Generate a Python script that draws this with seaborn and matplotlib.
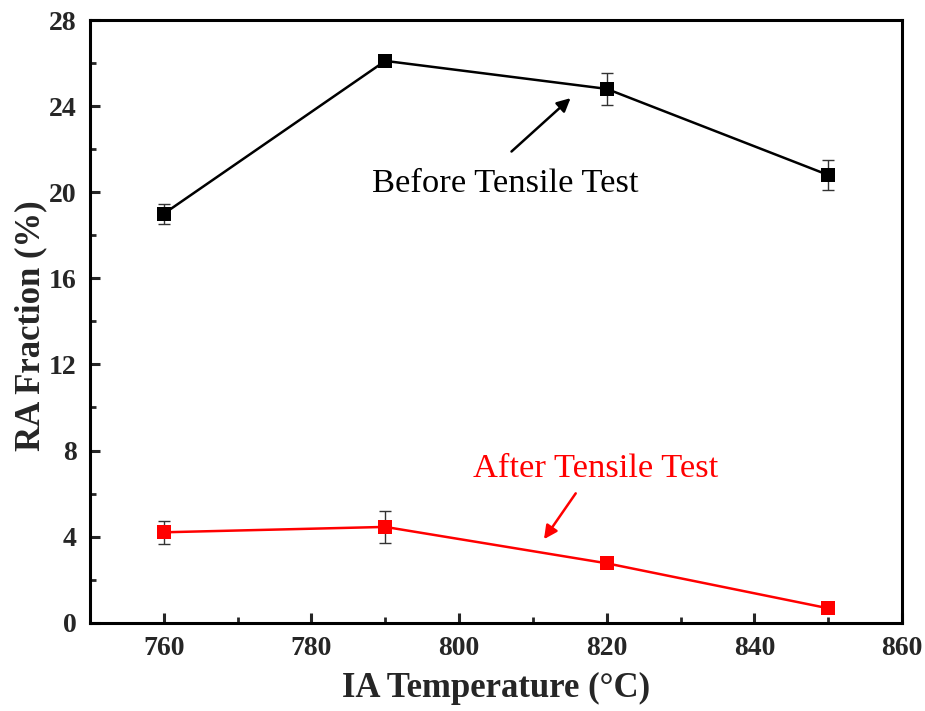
import numpy as np
import pandas as pd
import matplotlib
matplotlib.use("Agg")
import matplotlib.pyplot as plt
import seaborn as sns
from matplotlib.ticker import MultipleLocator

temps = [760, 790, 820, 850]
before_vals = [19.0, 26.1, 24.8, 20.8]
before_err = [0.47, 0.2, 0.73, 0.68]
after_vals = [4.2, 4.45, 2.76, 0.67]
after_err = [0.54, 0.76, 0.08, 0.1]
x_ticks = [760, 780, 800, 820, 840, 860]
y_ticks = [0, 4, 8, 12, 16, 20, 24, 28]

sns.set_theme(style="ticks")
plt.rcParams['font.family'] = ['Liberation Serif', 'DejaVu Serif']

df = pd.DataFrame({
    "T": temps * 2,
    "RA": before_vals + after_vals,
    "err": before_err + after_err,
    "state": ["Before"] * 4 + ["After"] * 4,
})

fig = plt.figure(figsize=(9.25, 7.11), dpi=100)
ax = fig.add_axes([90/925, 1 - 622.7/711, (902-90)/925, (622.7-20)/711])

colors = {"Before": "black", "After": "#ff0000"}
for state, sub in df.groupby("state"):
    ax.errorbar(sub["T"], sub["RA"], yerr=sub["err"], fmt="none",
                ecolor="#333333", elinewidth=1.0, capsize=4.5, capthick=1.0, zorder=2)
sns.lineplot(data=df, x="T", y="RA", hue="state", palette=colors,
             marker="s", markersize=9.5, markeredgewidth=0, linewidth=1.8,
             legend=False, ax=ax, zorder=3)

ax.set_xlim(750, 860)
ax.set_ylim(0, 28)
ax.set_xticks(x_ticks)
ax.set_yticks(y_ticks)
ax.xaxis.set_minor_locator(MultipleLocator(10))
ax.yaxis.set_minor_locator(MultipleLocator(2))
ax.tick_params(which="major", direction="in", length=7, width=2.2,
               top=False, right=False, labelsize=20, pad=9.5)
ax.tick_params(which="minor", direction="in", length=4, width=2.0,
               top=False, right=False)
for lab in ax.get_xticklabels() + ax.get_yticklabels():
    lab.set_fontweight("bold")
for s in ax.spines.values():
    s.set_linewidth(2.2)
    s.set_color("black")

ax.set_xlabel("IA Temperature (°C)", fontsize=25, fontweight="bold")
ax.set_ylabel("RA Fraction (%)", fontsize=25, fontweight="bold")
ax.xaxis.set_label_coords(0.5, -0.082)
ax.yaxis.set_label_coords(-0.053, 0.493)

ax.annotate("", xy=(815.1, 24.37), xytext=(807.1, 21.89),
            arrowprops=dict(arrowstyle="-|>", color="black", lw=1.8,
                            mutation_scale=20, shrinkA=0, shrinkB=0))
ax.text(806.3, 20.0, "Before Tensile Test", fontsize=24.8, color="black",
        ha="center", va="baseline")
ax.annotate("", xy=(811.5, 3.88), xytext=(815.8, 6.01),
            arrowprops=dict(arrowstyle="-|>", color="#ff0000", lw=1.8,
                            mutation_scale=20, shrinkA=0, shrinkB=0))
ax.text(818.5, 6.78, "After Tensile Test", fontsize=24.8, color="#ff0000",
        ha="center", va="baseline")

fig.savefig("out.png", dpi=100)
